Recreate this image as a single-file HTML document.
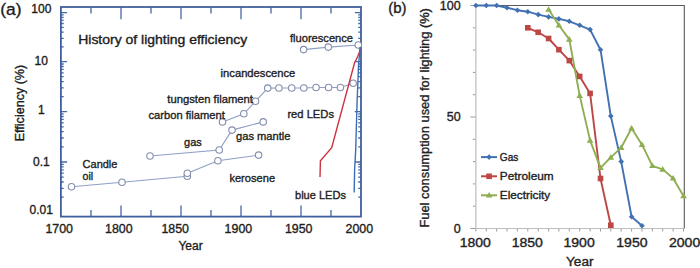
<!DOCTYPE html><html><head><meta charset="utf-8"><style>html,body{margin:0;padding:0;background:#fff;}svg{display:block;}text{font-family:"Liberation Sans", sans-serif;stroke:#222;stroke-width:0.35px;}</style></head><body>
<svg width="700" height="268" viewBox="0 0 700 268">
<rect width="700" height="268" fill="#fff"/>
<path d="M60.9 12.6h6.2M361 12.6h-6.2M60.9 46.9h2.8M361 46.9h-2.8M60.9 38.3h2.8M361 38.3h-2.8M60.9 32.1h2.8M361 32.1h-2.8M60.9 27.4h2.8M361 27.4h-2.8M60.9 23.5h2.8M361 23.5h-2.8M60.9 20.2h2.8M361 20.2h-2.8M60.9 17.4h2.8M361 17.4h-2.8M60.9 14.8h2.8M361 14.8h-2.8M60.9 61.7h6.2M361 61.7h-6.2M60.9 96.6h2.8M361 96.6h-2.8M60.9 87.8h2.8M361 87.8h-2.8M60.9 81.6h2.8M361 81.6h-2.8M60.9 76.7h2.8M361 76.7h-2.8M60.9 72.8h2.8M361 72.8h-2.8M60.9 69.4h2.8M361 69.4h-2.8M60.9 66.5h2.8M361 66.5h-2.8M60.9 64.0h2.8M361 64.0h-2.8M60.9 111.6h6.2M361 111.6h-6.2M60.9 146.8h2.8M361 146.8h-2.8M60.9 138.0h2.8M361 138.0h-2.8M60.9 131.7h2.8M361 131.7h-2.8M60.9 126.8h2.8M361 126.8h-2.8M60.9 122.8h2.8M361 122.8h-2.8M60.9 119.4h2.8M361 119.4h-2.8M60.9 116.5h2.8M361 116.5h-2.8M60.9 113.9h2.8M361 113.9h-2.8M60.9 162.0h6.2M361 162.0h-6.2M60.9 197.2h2.8M361 197.2h-2.8M60.9 188.3h2.8M361 188.3h-2.8M60.9 182.0h2.8M361 182.0h-2.8M60.9 177.1h2.8M361 177.1h-2.8M60.9 173.2h2.8M361 173.2h-2.8M60.9 169.8h2.8M361 169.8h-2.8M60.9 166.9h2.8M361 166.9h-2.8M60.9 164.3h2.8M361 164.3h-2.8M121 216.6v-11M121 7v12.3M181 216.6v-11M181 7v12.3M241 216.6v-11M241 7v12.3M301 216.6v-11M301 7v12.3M91 216.6v-6.5M91 7v6.5M151 216.6v-6.5M151 7v6.5M211 216.6v-6.5M211 7v6.5M271 216.6v-6.5M271 7v6.5M331 216.6v-6.5M331 7v6.5" stroke="#4867a6" stroke-width="1.3" fill="none"/>
<rect x="60.9" y="7" width="300.1" height="209.6" stroke="#405f9d" stroke-width="1.8" fill="none"/>
<polyline points="71.5,186.7 122,182.3 187.3,176.3" stroke="#8e9ec6" stroke-width="1.1" fill="none"/>
<polyline points="187.3,173.2 217.9,160.7 258.6,155.1" stroke="#8e9ec6" stroke-width="1.1" fill="none"/>
<polyline points="150,156 219.2,150 232,130.1 263.2,121.9" stroke="#8e9ec6" stroke-width="1.1" fill="none"/>
<polyline points="222.5,121.9 243.8,113.8 255.5,101.3 267.7,88.1 278.9,88 291.7,88 303.8,88 316.1,87.5 328.6,87.5 340.4,87.5 353.2,83.3" stroke="#8e9ec6" stroke-width="1.1" fill="none"/>
<polyline points="303.6,49.6 328.3,47.1 358.3,45" stroke="#8e9ec6" stroke-width="1.1" fill="none"/>
<circle cx="71.5" cy="186.7" r="3.25" stroke="#838ead" stroke-width="1.1" fill="#fff"/>
<circle cx="122" cy="182.3" r="3.25" stroke="#838ead" stroke-width="1.1" fill="#fff"/>
<circle cx="187.3" cy="176.3" r="3.25" stroke="#838ead" stroke-width="1.1" fill="#fff"/>
<circle cx="187.3" cy="173.2" r="3.25" stroke="#838ead" stroke-width="1.1" fill="#fff"/>
<circle cx="217.9" cy="160.7" r="3.25" stroke="#838ead" stroke-width="1.1" fill="#fff"/>
<circle cx="258.6" cy="155.1" r="3.25" stroke="#838ead" stroke-width="1.1" fill="#fff"/>
<circle cx="150" cy="156" r="3.25" stroke="#838ead" stroke-width="1.1" fill="#fff"/>
<circle cx="219.2" cy="150" r="3.25" stroke="#838ead" stroke-width="1.1" fill="#fff"/>
<circle cx="232" cy="130.1" r="3.25" stroke="#838ead" stroke-width="1.1" fill="#fff"/>
<circle cx="263.2" cy="121.9" r="3.25" stroke="#838ead" stroke-width="1.1" fill="#fff"/>
<circle cx="222.5" cy="121.9" r="3.25" stroke="#838ead" stroke-width="1.1" fill="#fff"/>
<circle cx="243.8" cy="113.8" r="3.25" stroke="#838ead" stroke-width="1.1" fill="#fff"/>
<circle cx="255.5" cy="101.3" r="3.25" stroke="#838ead" stroke-width="1.1" fill="#fff"/>
<circle cx="267.7" cy="88.1" r="3.25" stroke="#838ead" stroke-width="1.1" fill="#fff"/>
<circle cx="278.9" cy="88" r="3.25" stroke="#838ead" stroke-width="1.1" fill="#fff"/>
<circle cx="291.7" cy="88" r="3.25" stroke="#838ead" stroke-width="1.1" fill="#fff"/>
<circle cx="303.8" cy="88" r="3.25" stroke="#838ead" stroke-width="1.1" fill="#fff"/>
<circle cx="316.1" cy="87.5" r="3.25" stroke="#838ead" stroke-width="1.1" fill="#fff"/>
<circle cx="328.6" cy="87.5" r="3.25" stroke="#838ead" stroke-width="1.1" fill="#fff"/>
<circle cx="340.4" cy="87.5" r="3.25" stroke="#838ead" stroke-width="1.1" fill="#fff"/>
<circle cx="353.2" cy="83.3" r="3.25" stroke="#838ead" stroke-width="1.1" fill="#fff"/>
<circle cx="303.6" cy="49.6" r="3.25" stroke="#838ead" stroke-width="1.1" fill="#fff"/>
<circle cx="328.3" cy="47.1" r="3.25" stroke="#838ead" stroke-width="1.1" fill="#fff"/>
<circle cx="358.3" cy="45" r="3.25" stroke="#838ead" stroke-width="1.1" fill="#fff"/>
<polyline points="320,177 320.4,160.7 331.7,147.6 354.5,63 357.5,57 359.5,52 360.5,47" stroke="#cc3340" stroke-width="1.4" fill="none"/>
<polyline points="354.2,192.5 354.6,170 355.7,150 357,105 358.6,64 360.3,47" stroke="#3a6fb5" stroke-width="1.4" fill="none"/>
<text x="0.2" y="14.8" font-size="17.4" text-anchor="start" fill="#1a1a1a" >(a)</text>
<text x="41.3" y="12.9" font-size="12" text-anchor="middle" fill="#1a1a1a" >100</text>
<text x="41.3" y="65" font-size="12" text-anchor="middle" fill="#1a1a1a" >10</text>
<text x="41.3" y="114.2" font-size="12" text-anchor="middle" fill="#1a1a1a" >1</text>
<text x="41.3" y="165.5" font-size="12" text-anchor="middle" fill="#1a1a1a" >0.1</text>
<text x="41.3" y="213.9" font-size="12" text-anchor="middle" fill="#1a1a1a" >0.01</text>
<text x="59.2" y="233" font-size="12.4" text-anchor="middle" fill="#1a1a1a" >1700</text>
<text x="118.8" y="233" font-size="12.4" text-anchor="middle" fill="#1a1a1a" >1800</text>
<text x="175.2" y="233" font-size="12.4" text-anchor="middle" fill="#1a1a1a" >1850</text>
<text x="238.4" y="233" font-size="12.4" text-anchor="middle" fill="#1a1a1a" >1900</text>
<text x="298.7" y="233" font-size="12.4" text-anchor="middle" fill="#1a1a1a" >1950</text>
<text x="359.3" y="233" font-size="12.4" text-anchor="middle" fill="#1a1a1a" >2000</text>
<text x="190.5" y="250.1" font-size="12" text-anchor="middle" fill="#1a1a1a" >Year</text>
<text transform="translate(23.8,141.3) rotate(-90)" font-size="12.6" fill="#1a1a1a" textLength="76.5" lengthAdjust="spacingAndGlyphs">Efficiency (%)</text>
<text x="78.2" y="44" font-size="12.6" text-anchor="start" fill="#1a1a1a" textLength="169" lengthAdjust="spacingAndGlyphs">History of lighting efficiency</text>
<text x="290" y="42.1" font-size="11.3" text-anchor="start" fill="#1a1a1a" textLength="63" lengthAdjust="spacingAndGlyphs">fluorescence</text>
<text x="220.6" y="76.7" font-size="11.3" text-anchor="start" fill="#1a1a1a" textLength="74.7" lengthAdjust="spacingAndGlyphs">incandescence</text>
<text x="167.3" y="102.6" font-size="11.3" text-anchor="start" fill="#1a1a1a" textLength="85.6" lengthAdjust="spacingAndGlyphs">tungsten filament</text>
<text x="148.5" y="118.5" font-size="11.3" text-anchor="start" fill="#1a1a1a" textLength="76.3" lengthAdjust="spacingAndGlyphs">carbon filament</text>
<text x="287.4" y="117.9" font-size="11.3" text-anchor="start" fill="#1a1a1a" textLength="46.6" lengthAdjust="spacingAndGlyphs">red LEDs</text>
<text x="236" y="140.3" font-size="11.3" text-anchor="start" fill="#1a1a1a" textLength="54.5" lengthAdjust="spacingAndGlyphs">gas mantle</text>
<text x="184.1" y="146" font-size="11.3" text-anchor="start" fill="#1a1a1a" textLength="17.7" lengthAdjust="spacingAndGlyphs">gas</text>
<text x="82.6" y="167.6" font-size="11.3" text-anchor="start" fill="#1a1a1a" textLength="34.8" lengthAdjust="spacingAndGlyphs">Candle</text>
<text x="82.6" y="180.3" font-size="11.3" text-anchor="start" fill="#1a1a1a" textLength="10.6" lengthAdjust="spacingAndGlyphs">oil</text>
<text x="229.4" y="181.9" font-size="11.3" text-anchor="start" fill="#1a1a1a" textLength="45.7" lengthAdjust="spacingAndGlyphs">kerosene</text>
<text x="295" y="199.3" font-size="11.3" text-anchor="start" fill="#1a1a1a" textLength="51" lengthAdjust="spacingAndGlyphs">blue LEDs</text>
<path d="M475.9 5.5H684.3V228.5" stroke="#5a5a5a" stroke-width="1.1" fill="none"/>
<path d="M470.4 228.5H475.9M472.9 206.2H475.9M472.9 183.9H475.9M472.9 161.6H475.9M472.9 139.3H475.9M470.4 117.0H475.9M472.9 94.7H475.9M472.9 72.4H475.9M472.9 50.1H475.9M472.9 27.8H475.9M470.4 5.5H475.9M475.9 228.5v3M486.3 228.5v3M496.7 228.5v3M507.0 228.5v3M517.4 228.5v3M527.8 228.5v3M538.2 228.5v3M548.6 228.5v3M558.9 228.5v3M569.3 228.5v3M579.7 228.5v3M590.1 228.5v3M600.5 228.5v3M610.8 228.5v3M621.2 228.5v3M631.6 228.5v3M642.0 228.5v3M652.4 228.5v3M662.7 228.5v3M673.1 228.5v3M683.5 228.5v3" stroke="#9a9a9a" stroke-width="1" fill="none"/>
<path d="M475.9 5.5V228.5H684.3" stroke="#bdbdbd" stroke-width="1.2" fill="none"/>
<polyline points="475.9,5.5 486.3,5.5 496.7,5.5 507.0,7.7 517.4,10.2 527.8,11.7 538.2,14.6 548.6,16.9 558.9,18.9 569.3,21.3 579.7,25.3 590.1,29.6 600.5,49.7 610.8,116.1 621.2,161.6 631.6,216.7 642.0,225.8" stroke="#4171b3" stroke-width="1.9" fill="none" stroke-linejoin="round"/>
<polyline points="527.8,27.8 538.2,32.3 548.6,38.5 558.9,49.7 569.3,60.6 579.7,76.4 590.1,93.4 600.5,178.5 610.8,225.2" stroke="#bc4744" stroke-width="1.9" fill="none" stroke-linejoin="round"/>
<polyline points="548.6,9.5 558.9,25.3 569.3,39.4 579.7,95.6 590.1,140.4 600.5,167.8 610.8,157.4 621.2,147.6 631.6,128.2 642.0,144.7 652.4,165.8 662.7,169.4 673.1,178.3 683.5,195.9" stroke="#8fae52" stroke-width="1.9" fill="none" stroke-linejoin="round"/>
<path d="M475.9 2.7l2.8 2.8l-2.8 2.8l-2.8 -2.8z" fill="#4171b3"/>
<path d="M486.3 2.7l2.8 2.8l-2.8 2.8l-2.8 -2.8z" fill="#4171b3"/>
<path d="M496.7 2.7l2.8 2.8l-2.8 2.8l-2.8 -2.8z" fill="#4171b3"/>
<path d="M507.0 4.9l2.8 2.8l-2.8 2.8l-2.8 -2.8z" fill="#4171b3"/>
<path d="M517.4 7.4l2.8 2.8l-2.8 2.8l-2.8 -2.8z" fill="#4171b3"/>
<path d="M527.8 8.9l2.8 2.8l-2.8 2.8l-2.8 -2.8z" fill="#4171b3"/>
<path d="M538.2 11.8l2.8 2.8l-2.8 2.8l-2.8 -2.8z" fill="#4171b3"/>
<path d="M548.6 14.1l2.8 2.8l-2.8 2.8l-2.8 -2.8z" fill="#4171b3"/>
<path d="M558.9 16.1l2.8 2.8l-2.8 2.8l-2.8 -2.8z" fill="#4171b3"/>
<path d="M569.3 18.5l2.8 2.8l-2.8 2.8l-2.8 -2.8z" fill="#4171b3"/>
<path d="M579.7 22.5l2.8 2.8l-2.8 2.8l-2.8 -2.8z" fill="#4171b3"/>
<path d="M590.1 26.8l2.8 2.8l-2.8 2.8l-2.8 -2.8z" fill="#4171b3"/>
<path d="M600.5 46.9l2.8 2.8l-2.8 2.8l-2.8 -2.8z" fill="#4171b3"/>
<path d="M610.8 113.3l2.8 2.8l-2.8 2.8l-2.8 -2.8z" fill="#4171b3"/>
<path d="M621.2 158.8l2.8 2.8l-2.8 2.8l-2.8 -2.8z" fill="#4171b3"/>
<path d="M631.6 213.9l2.8 2.8l-2.8 2.8l-2.8 -2.8z" fill="#4171b3"/>
<path d="M642.0 223.0l2.8 2.8l-2.8 2.8l-2.8 -2.8z" fill="#4171b3"/>
<rect x="525.0" y="25.0" width="5.6" height="5.6" fill="#bc4744"/>
<rect x="535.4" y="29.5" width="5.6" height="5.6" fill="#bc4744"/>
<rect x="545.8" y="35.7" width="5.6" height="5.6" fill="#bc4744"/>
<rect x="556.1" y="46.9" width="5.6" height="5.6" fill="#bc4744"/>
<rect x="566.5" y="57.8" width="5.6" height="5.6" fill="#bc4744"/>
<rect x="576.9" y="73.6" width="5.6" height="5.6" fill="#bc4744"/>
<rect x="587.3" y="90.6" width="5.6" height="5.6" fill="#bc4744"/>
<rect x="597.7" y="175.7" width="5.6" height="5.6" fill="#bc4744"/>
<rect x="608.0" y="222.4" width="5.6" height="5.6" fill="#bc4744"/>
<path d="M548.6 6.2l3.3 5.6h-6.6z" fill="#8fae52"/>
<path d="M558.9 22.0l3.3 5.6h-6.6z" fill="#8fae52"/>
<path d="M569.3 36.1l3.3 5.6h-6.6z" fill="#8fae52"/>
<path d="M579.7 92.3l3.3 5.6h-6.6z" fill="#8fae52"/>
<path d="M590.1 137.1l3.3 5.6h-6.6z" fill="#8fae52"/>
<path d="M600.5 164.5l3.3 5.6h-6.6z" fill="#8fae52"/>
<path d="M610.8 154.1l3.3 5.6h-6.6z" fill="#8fae52"/>
<path d="M621.2 144.3l3.3 5.6h-6.6z" fill="#8fae52"/>
<path d="M631.6 124.9l3.3 5.6h-6.6z" fill="#8fae52"/>
<path d="M642.0 141.4l3.3 5.6h-6.6z" fill="#8fae52"/>
<path d="M652.4 162.5l3.3 5.6h-6.6z" fill="#8fae52"/>
<path d="M662.7 166.1l3.3 5.6h-6.6z" fill="#8fae52"/>
<path d="M673.1 175.0l3.3 5.6h-6.6z" fill="#8fae52"/>
<path d="M683.5 192.6l3.3 5.6h-6.6z" fill="#8fae52"/>
<path d="M481 157.1H497" stroke="#4171b3" stroke-width="2"/>
<path d="M489.1 154.3l2.8 2.8l-2.8 2.8l-2.8 -2.8z" fill="#4171b3"/>
<text x="499.8" y="160.79999999999998" font-size="11" fill="#222" textLength="18.5" lengthAdjust="spacingAndGlyphs">Gas</text>
<path d="M481 176.3H497" stroke="#bc4744" stroke-width="2"/>
<rect x="486.3" y="173.5" width="5.6" height="5.6" fill="#bc4744"/>
<text x="499.8" y="180.0" font-size="11" fill="#222" textLength="53.8" lengthAdjust="spacingAndGlyphs">Petroleum</text>
<path d="M481 195.3H497" stroke="#8fae52" stroke-width="2"/>
<path d="M489.1 192.0l3.3 5.6h-6.6z" fill="#8fae52"/>
<text x="499.8" y="199.0" font-size="11" fill="#222" textLength="50.4" lengthAdjust="spacingAndGlyphs">Electricity</text>
<text x="388.2" y="12.9" font-size="15" text-anchor="start" fill="#1a1a1a" >(b)</text>
<text x="460.6" y="9.9" font-size="12.5" text-anchor="end" fill="#222">100</text>
<text x="460.6" y="121.4" font-size="12.5" text-anchor="end" fill="#222">50</text>
<text x="460.6" y="232.9" font-size="12.5" text-anchor="end" fill="#222">0</text>
<text x="475.3" y="247" font-size="12.5" text-anchor="middle" fill="#222" textLength="31.2" lengthAdjust="spacingAndGlyphs">1800</text>
<text x="527.3" y="247" font-size="12.5" text-anchor="middle" fill="#222" textLength="31.2" lengthAdjust="spacingAndGlyphs">1850</text>
<text x="579.1" y="247" font-size="12.5" text-anchor="middle" fill="#222" textLength="31.2" lengthAdjust="spacingAndGlyphs">1900</text>
<text x="631.9" y="247" font-size="12.5" text-anchor="middle" fill="#222" textLength="31.2" lengthAdjust="spacingAndGlyphs">1950</text>
<text x="684.6" y="247" font-size="12.5" text-anchor="middle" fill="#222" textLength="31.2" lengthAdjust="spacingAndGlyphs">2000</text>
<text x="579.8" y="266.3" font-size="12.5" text-anchor="middle" fill="#222" textLength="27.5" lengthAdjust="spacingAndGlyphs">Year</text>
<text transform="translate(429.2,227.6) rotate(-90)" font-size="12" fill="#222" textLength="219.5" lengthAdjust="spacingAndGlyphs">Fuel consumption used for lighting (%)</text>
</svg></body></html>
